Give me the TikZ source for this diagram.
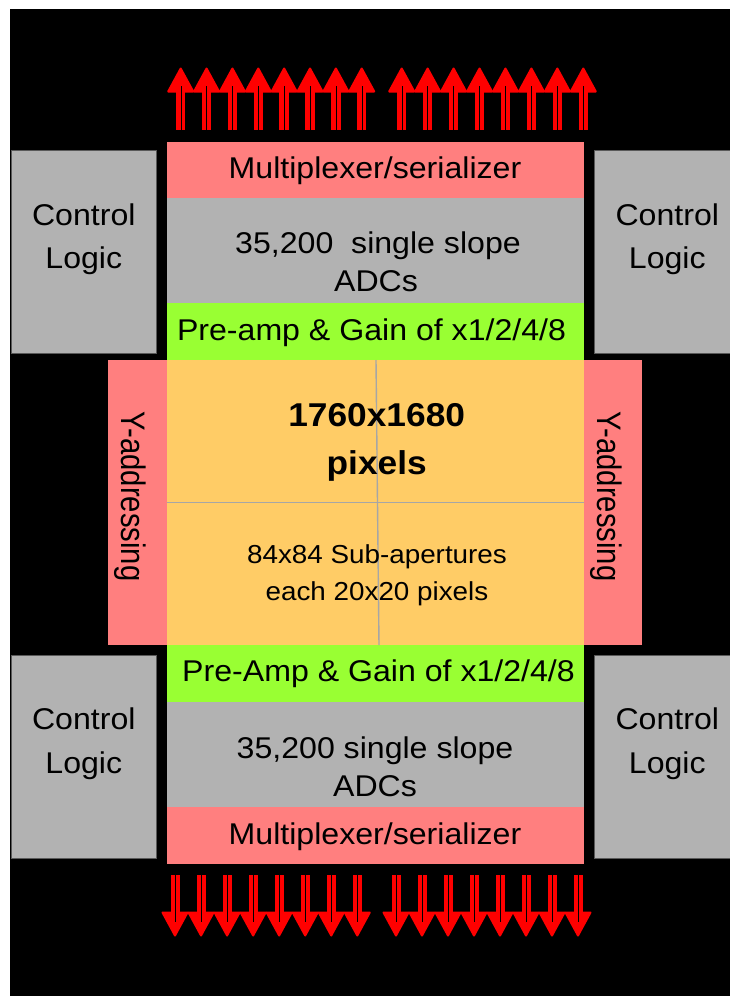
\documentclass[tikz,border=0pt]{standalone}
\usepackage{fontspec}
\setmainfont{Liberation Sans}[FakeStretch=1.07]
\newfontfamily\yfont{Liberation Sans}[FakeStretch=0.86]
\definecolor{pinkbox}{HTML}{FF7F7F}
\definecolor{graybox}{HTML}{B2B2B2}
\definecolor{greenbox}{HTML}{99FF33}
\definecolor{orangebox}{HTML}{FFCC66}
\definecolor{gridgray}{HTML}{A6A6A6}
\definecolor{arrowred}{HTML}{FF0000}
\tikzset{
  blk/.style={inner sep=0pt, outer sep=0pt, anchor=north west, draw=none},
  ctrlbox/.style={blk, fill=graybox, draw=gray!70!black, line width=0.8pt},
  muxbox/.style={blk, fill=pinkbox},
  adcbox/.style={blk, fill=graybox},
  gainbox/.style={blk, fill=greenbox},
  ybox/.style={blk, fill=pinkbox},
  pixbox/.style={blk, fill=orangebox},
  lbl/.style={inner sep=0pt, anchor=base, text=black, font=\fontsize{30}{36}\selectfont},
  ylbl/.style={inner sep=0pt, anchor=center, rotate=-90, text=black, font=\yfont\fontsize{34}{40}\selectfont},
  biglbl/.style={inner sep=0pt, anchor=base, text=black, font=\fontsize{33}{40}\selectfont\bfseries},
  smalllbl/.style={inner sep=0pt, anchor=base, text=black, font=\fontsize{26}{31}\selectfont},
  gridline/.style={draw=gridgray, line width=1.4pt},
  shaft/.style={fill=arrowred},
  gap/.style={draw=black, line width=0.9pt},
  head/.style={fill=arrowred, draw=arrowred, line width=2pt, line join=round},
}
\begin{document}
\begin{tikzpicture}[x=1pt,y=-1pt]
\useasboundingbox (0,0) rectangle (730,996);
\fill[white] (0,0) rectangle (730,996);
\fill[black] (10,9) rectangle (730,996);

% control logic boxes
\node[ctrlbox, minimum width=145.7pt, minimum height=202.6pt] (clTL) at (11,150.7) {};
\node[ctrlbox, minimum width=146pt, minimum height=202.6pt] (clTR) at (594.3,150.7) {};
\node[ctrlbox, minimum width=145.7pt, minimum height=203.3pt] (clBL) at (11,655) {};
\node[ctrlbox, minimum width=146pt, minimum height=203.3pt] (clBR) at (594.3,655) {};

% central column
\node[muxbox,  minimum width=417.3pt, minimum height=56pt]    (muxT) at (166.7,141.7) {};
\node[adcbox,  minimum width=417.3pt, minimum height=105pt]   (adcT) at (166.7,197.7) {};
\node[gainbox, minimum width=417.3pt, minimum height=57.3pt]  (grnT) at (166.7,302.7) {};
\node[ybox,    minimum width=59pt,    minimum height=285pt]   (yL)   at (107.7,360) {};
\node[pixbox,  minimum width=417.3pt, minimum height=285pt]   (pix)  at (166.7,360) {};
\node[ybox,    minimum width=57.7pt,  minimum height=285pt]   (yR)   at (584,360) {};
\node[gainbox, minimum width=417.3pt, minimum height=56.7pt]  (grnB) at (166.7,645) {};
\node[adcbox,  minimum width=417.3pt, minimum height=105.6pt] (adcB) at (166.7,701.7) {};
\node[muxbox,  minimum width=417.3pt, minimum height=56.7pt]  (muxB) at (166.7,807.3) {};

% grid lines in pixel array
\draw[gridline] (376,360) -- (379,645);
\draw[gridline] (166.7,502.7) -- (584,502.7);

% labels
\node[lbl] (tTLa) at (83.8,225) {Control};
\node[lbl] (tTLb) at (83.8,268.3) {Logic};
\node[lbl] (tTRa) at (667.3,225) {Control};
\node[lbl] (tTRb) at (667.3,268.3) {Logic};
\node[lbl] (tBLa) at (83.8,729.3) {Control};
\node[lbl] (tBLb) at (83.8,773.3) {Logic};
\node[lbl] (tBRa) at (667.3,729.3) {Control};
\node[lbl] (tBRb) at (667.3,773.3) {Logic};

\node[lbl] (tmuxT) at (375,178.3) {Multiplexer/serializer};
\node[lbl] (tadcTa) at (378,253.3) {35,200\ \ single slope};
\node[lbl] (tadcTb) at (376,291) {ADCs};
\node[lbl] (tgrnT) at (371.5,340) {Pre-amp \& Gain of x1/2/4/8};

\node[biglbl] (tpixa) at (376.7,426) {1760x1680};
\node[biglbl] (tpixb) at (376.7,474) {pixels};
\node[smalllbl] (tpixc) at (377,563.3) {84x84 Sub-apertures};
\node[smalllbl] (tpixd) at (377,600) {each 20x20 pixels};

\node[ylbl] (tyL) at (130,496.7) {Y-addressing};
\node[ylbl] (tyR) at (606,496.5) {Y-addressing};

\node[lbl] (tgrnB) at (378.5,681.7) {Pre-Amp \& Gain of x1/2/4/8};
\node[lbl] (tadcBa) at (375,758.3) {35,200 single slope};
\node[lbl] (tadcBb) at (375,796) {ADCs};
\node[lbl] (tmuxB) at (375,844) {Multiplexer/serializer};

% output arrows, top
\foreach \base/\step in {180.7/25.86, 401.7/25.94}{
  \foreach \i in {0,...,7}{
    \pgfmathsetmacro\xa{\base+\step*\i}
    \fill[shaft] (\xa-4.75,92) rectangle (\xa+4.75,130);
    \filldraw[head] (\xa,68.5) -- (\xa+12.5,91.5) -- (\xa-12.5,91.5) -- cycle;
    \draw[gap] (\xa+0.3,86) -- (\xa+0.3,130);
  }
}
% output arrows, bottom
\foreach \base/\step in {175/26.04, 396/26}{
  \foreach \i in {0,...,7}{
    \pgfmathsetmacro\xb{\base+\step*\i}
    \fill[shaft] (\xb-4.5,875) rectangle (\xb+4.5,913);
    \filldraw[head] (\xb,935.5) -- (\xb+12.5,912.5) -- (\xb-12.5,912.5) -- cycle;
    \draw[gap] (\xb+0.3,875) -- (\xb+0.3,921.5);
  }
}
\end{tikzpicture}
\end{document}
